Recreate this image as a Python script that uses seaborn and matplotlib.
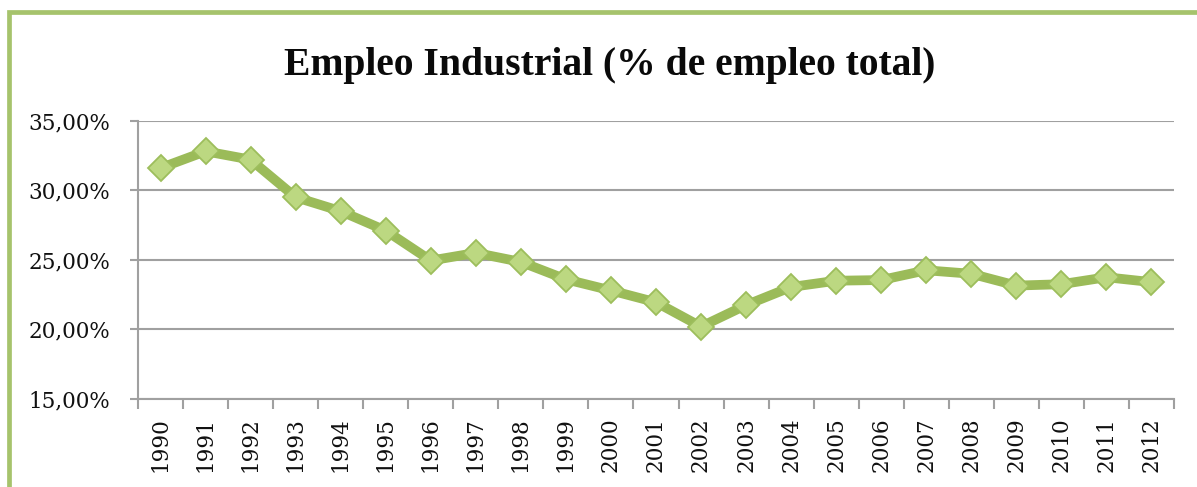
import numpy as np
import pandas as pd
import seaborn as sns
import matplotlib
matplotlib.use("Agg")
import matplotlib.pyplot as plt
import matplotlib.patches as mpatches
from matplotlib.ticker import FuncFormatter, FixedLocator

# datos
anios = [str(a) for a in range(1990, 2013)]
empleo = [31.6, 32.8, 32.2, 29.5, 28.5, 27.1, 24.95, 25.5, 24.85, 23.6, 22.8,
          21.95, 20.2, 21.75, 23.05, 23.5, 23.55, 24.25, 24.0, 23.15, 23.25,
          23.75, 23.4]
y_ticks = [15, 20, 25, 30, 35]
titulo = "Empleo Industrial (% de empleo total)"

df = pd.DataFrame({"Año": anios, "Empleo": empleo})

sns.set_theme(style="white")
plt.rcParams['font.family'] = ['DejaVu Serif']

verde = "#9BBB59"
gris = "#A0A0A0"

fig = plt.figure(figsize=(11.97, 4.87), dpi=100)
ax = fig.add_axes([138/1197, 1-399/487, (1174-138)/1197, (399-120.7)/487])

sns.lineplot(data=df, x="Año", y="Empleo", ax=ax, sort=False, color=verde,
             linewidth=7, marker="D", markersize=13,
             markerfacecolor="#BCD881", markeredgecolor="#9DBE5C",
             markeredgewidth=1.3)

ax.set_xlim(-0.5, len(anios) - 0.5)
ax.set_ylim(15, 35)
ax.yaxis.set_major_locator(FixedLocator(y_ticks))
ax.yaxis.set_major_formatter(FuncFormatter(lambda v, p: f"{v:.2f}".replace(".", ",") + "%"))
ax.grid(axis="y", color=gris, linewidth=1.5)
ax.set_axisbelow(True)

# marcas entre categorias
ax.xaxis.set_minor_locator(FixedLocator(np.arange(-0.5, len(anios), 1)))
ax.tick_params(axis="x", which="major", length=0, pad=13, labelsize=15.5,
               labelrotation=90, colors="#111111")
ax.tick_params(axis="x", which="minor", length=7, width=1.5, color=gris,
               direction="out", bottom=True)
ax.tick_params(axis="y", which="major", length=6, width=1.5, color=gris,
               direction="out", left=True, pad=14, labelsize=15.5,
               labelcolor="#111111")

for s in ["top", "right"]:
    ax.spines[s].set_visible(False)
for s in ["left", "bottom"]:
    ax.spines[s].set_color(gris)
    ax.spines[s].set_linewidth(1.5)

ax.set_xlabel("")
ax.set_ylabel("")

fig.text(610/1197, 1-66/487, titulo, ha="center", va="center",
         fontsize=28.5, fontweight="bold", family="Liberation Serif", color="#0A0A0A")

# marco verde
marco = mpatches.Rectangle((9/1197, -0.2), 2, 1.2 - 11.5/487, transform=fig.transFigure,
                           fill=False, edgecolor="#A6C36C", linewidth=3.4, clip_on=False)
fig.patches.append(marco)

fig.savefig("out.png", dpi=100, facecolor="white")
